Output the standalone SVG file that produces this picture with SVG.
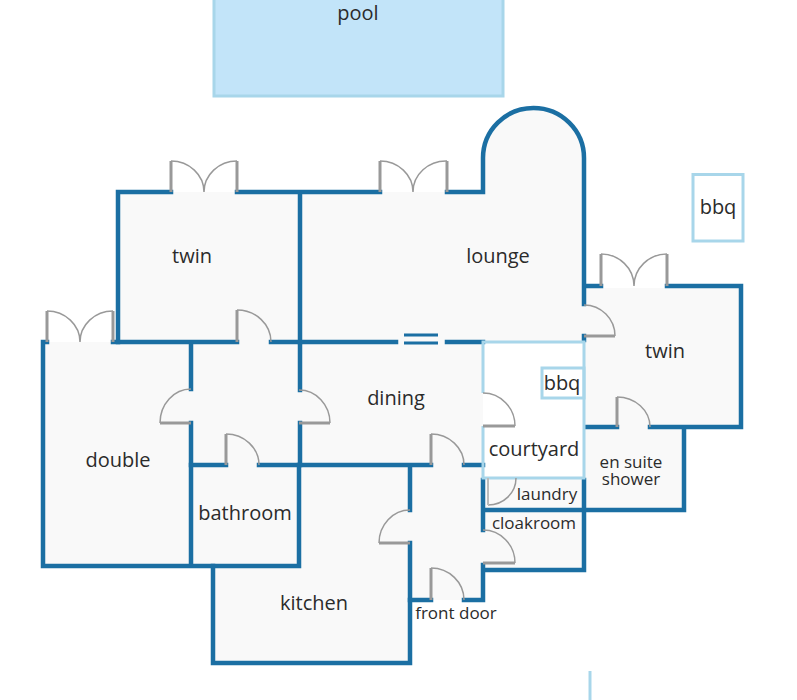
<svg xmlns="http://www.w3.org/2000/svg" width="797" height="700" viewBox="0 0 797 700">
<style>
text{font-family:"Open Sans","Noto Sans","Liberation Sans",sans-serif;font-size:20px;fill:#2b2b2b;text-anchor:middle}
text.s{font-size:17px}
.floor{fill:#f9f9f9;stroke:none}
.wall{fill:none;stroke:#1b6fa3;stroke-width:4.500;stroke-linecap:square}
.thin{stroke-width:3;stroke-linecap:butt}
.light{fill:none;stroke:#a8d6ea;stroke-width:3}
.arc{fill:none;stroke:#999;stroke-width:1.500}
.leaf{fill:none;stroke:#999;stroke-width:3}
</style>
<rect width="797" height="700" fill="#fff"/>
<g id="pool"><rect x="214" y="-10" width="289" height="106" fill="#c2e4f9" stroke="#a8d6ea" stroke-width="3"/><text x="358" y="20">pool</text></g>
<g id="floors">
<path class="floor" d="M118 192H483V158A50.500 50 0 0 1 584 158V288H741V427H684V510H584V570H483V600H410V663H213V566H43V342H118Z"/>
<rect x="483" y="341" width="101" height="137" fill="#fff"/>
</g>
<g id="walls">
<path class="wall" d="M171 192H118V342M237 192H300M380 192H300V342M447 192H483V158A50.500 50 0 0 1 584 158V304"/>
<path class="wall" d="M47 342H43V566H299V465M113 342H237M271 342H396M447 342H483M300 342V390M300 423V465M191 342V389M191 423V566"/>
<path class="wall" d="M191 465H226M259 465H431M464 465H483M410 465V510M410 543V663H213V566"/>
<path class="wall" d="M410 600H431M464 600H483V565M483 570H584V480M483 530V480M483 510H684V427H650M617 427H586M684 427H741V286H667M601 286H586M584 336V340"/>
<path class="wall thin" d="M404 335H438M404 343H438"/>
</g>
<g id="courtyard">
<path class="light" d="M483 393V342H584V478H483V426"/>
<text x="534" y="456">courtyard</text>
</g>
<g id="bbq-courtyard"><rect x="542" y="368" width="42" height="30" fill="none" stroke="#a8d6ea" stroke-width="3"/><text x="562" y="390">bbq</text></g>
<g id="bbq-outside"><rect x="693" y="174.500" width="50" height="66.500" fill="none" stroke="#a8d6ea" stroke-width="3"/><text x="718" y="214">bbq</text></g>
<path class="light" d="M590 671V700"/>
<g id="doors">
<path class="arc" d="M171 161A33 31 0 0 1 204 192A33 31 0 0 1 237 161"/><path class="leaf" d="M171 192V161M237 192V161"/>
<path class="arc" d="M380 161A33 31 0 0 1 413 192A33 31 0 0 1 447 161"/><path class="leaf" d="M380 192V161M447 192V161"/>
<path class="arc" d="M47 311A33 31 0 0 1 80 342A33 31 0 0 1 113 311"/><path class="leaf" d="M47 342V311M113 342V311"/>
<path class="arc" d="M601 254A33 32 0 0 1 634 286A33 32 0 0 1 667 254"/><path class="leaf" d="M601 286V254M667 286V254"/>
<path class="arc" d="M237 310A34 32 0 0 1 271 342"/><path class="leaf" d="M237 342V310"/>
<path class="arc" d="M160 423A31 34 0 0 1 191 389"/><path class="leaf" d="M191 423H160"/>
<path class="arc" d="M330 423A31 33 0 0 0 299 390"/><path class="leaf" d="M299 423H330"/>
<path class="arc" d="M226 434A33 31 0 0 1 259 465"/><path class="leaf" d="M226 465V434"/>
<path class="arc" d="M431 434A33 31 0 0 1 464 465"/><path class="leaf" d="M431 465V434"/>
<path class="arc" d="M379 543A31 33 0 0 1 410 510"/><path class="leaf" d="M410 543H379"/>
<path class="arc" d="M431 568A33 32 0 0 1 464 600"/><path class="leaf" d="M431 600V568"/>
<path class="arc" d="M515 426A32 33 0 0 0 483 393"/><path class="leaf" d="M483 426H515"/>
<path class="arc" d="M515 563A32 33 0 0 0 483 530"/><path class="leaf" d="M483 563H515"/>
<path class="arc" d="M615 336A31 31 0 0 0 584 305"/><path class="leaf" d="M584 336H615"/>
<path class="arc" d="M617 397A33 30 0 0 1 650 427"/><path class="leaf" d="M617 427V397"/>
<path class="arc" d="M516 478A28 27 0 0 1 488 505"/><path class="leaf" d="M488 478V505" style="stroke:#bbb;stroke-width:2"/>
</g>
<g id="twin-west"><text x="192" y="263">twin</text></g>
<g id="lounge"><text x="498" y="263">lounge</text></g>
<g id="twin-east"><text x="665" y="358">twin</text></g>
<g id="dining"><text x="396" y="405">dining</text></g>
<g id="double"><text x="118" y="467">double</text></g>
<g id="bathroom"><text x="245" y="520">bathroom</text></g>
<g id="kitchen"><text x="314" y="610">kitchen</text></g>
<g id="en-suite"><text class="s" x="631" y="468">en suite<tspan x="631" dy="17">shower</tspan></text></g>
<g id="laundry"><text class="s" x="547" y="500">laundry</text></g>
<g id="cloakroom"><text class="s" x="534" y="529">cloakroom</text></g>
<g id="front-door"><text class="s" x="456" y="619">front door</text></g>
</svg>
